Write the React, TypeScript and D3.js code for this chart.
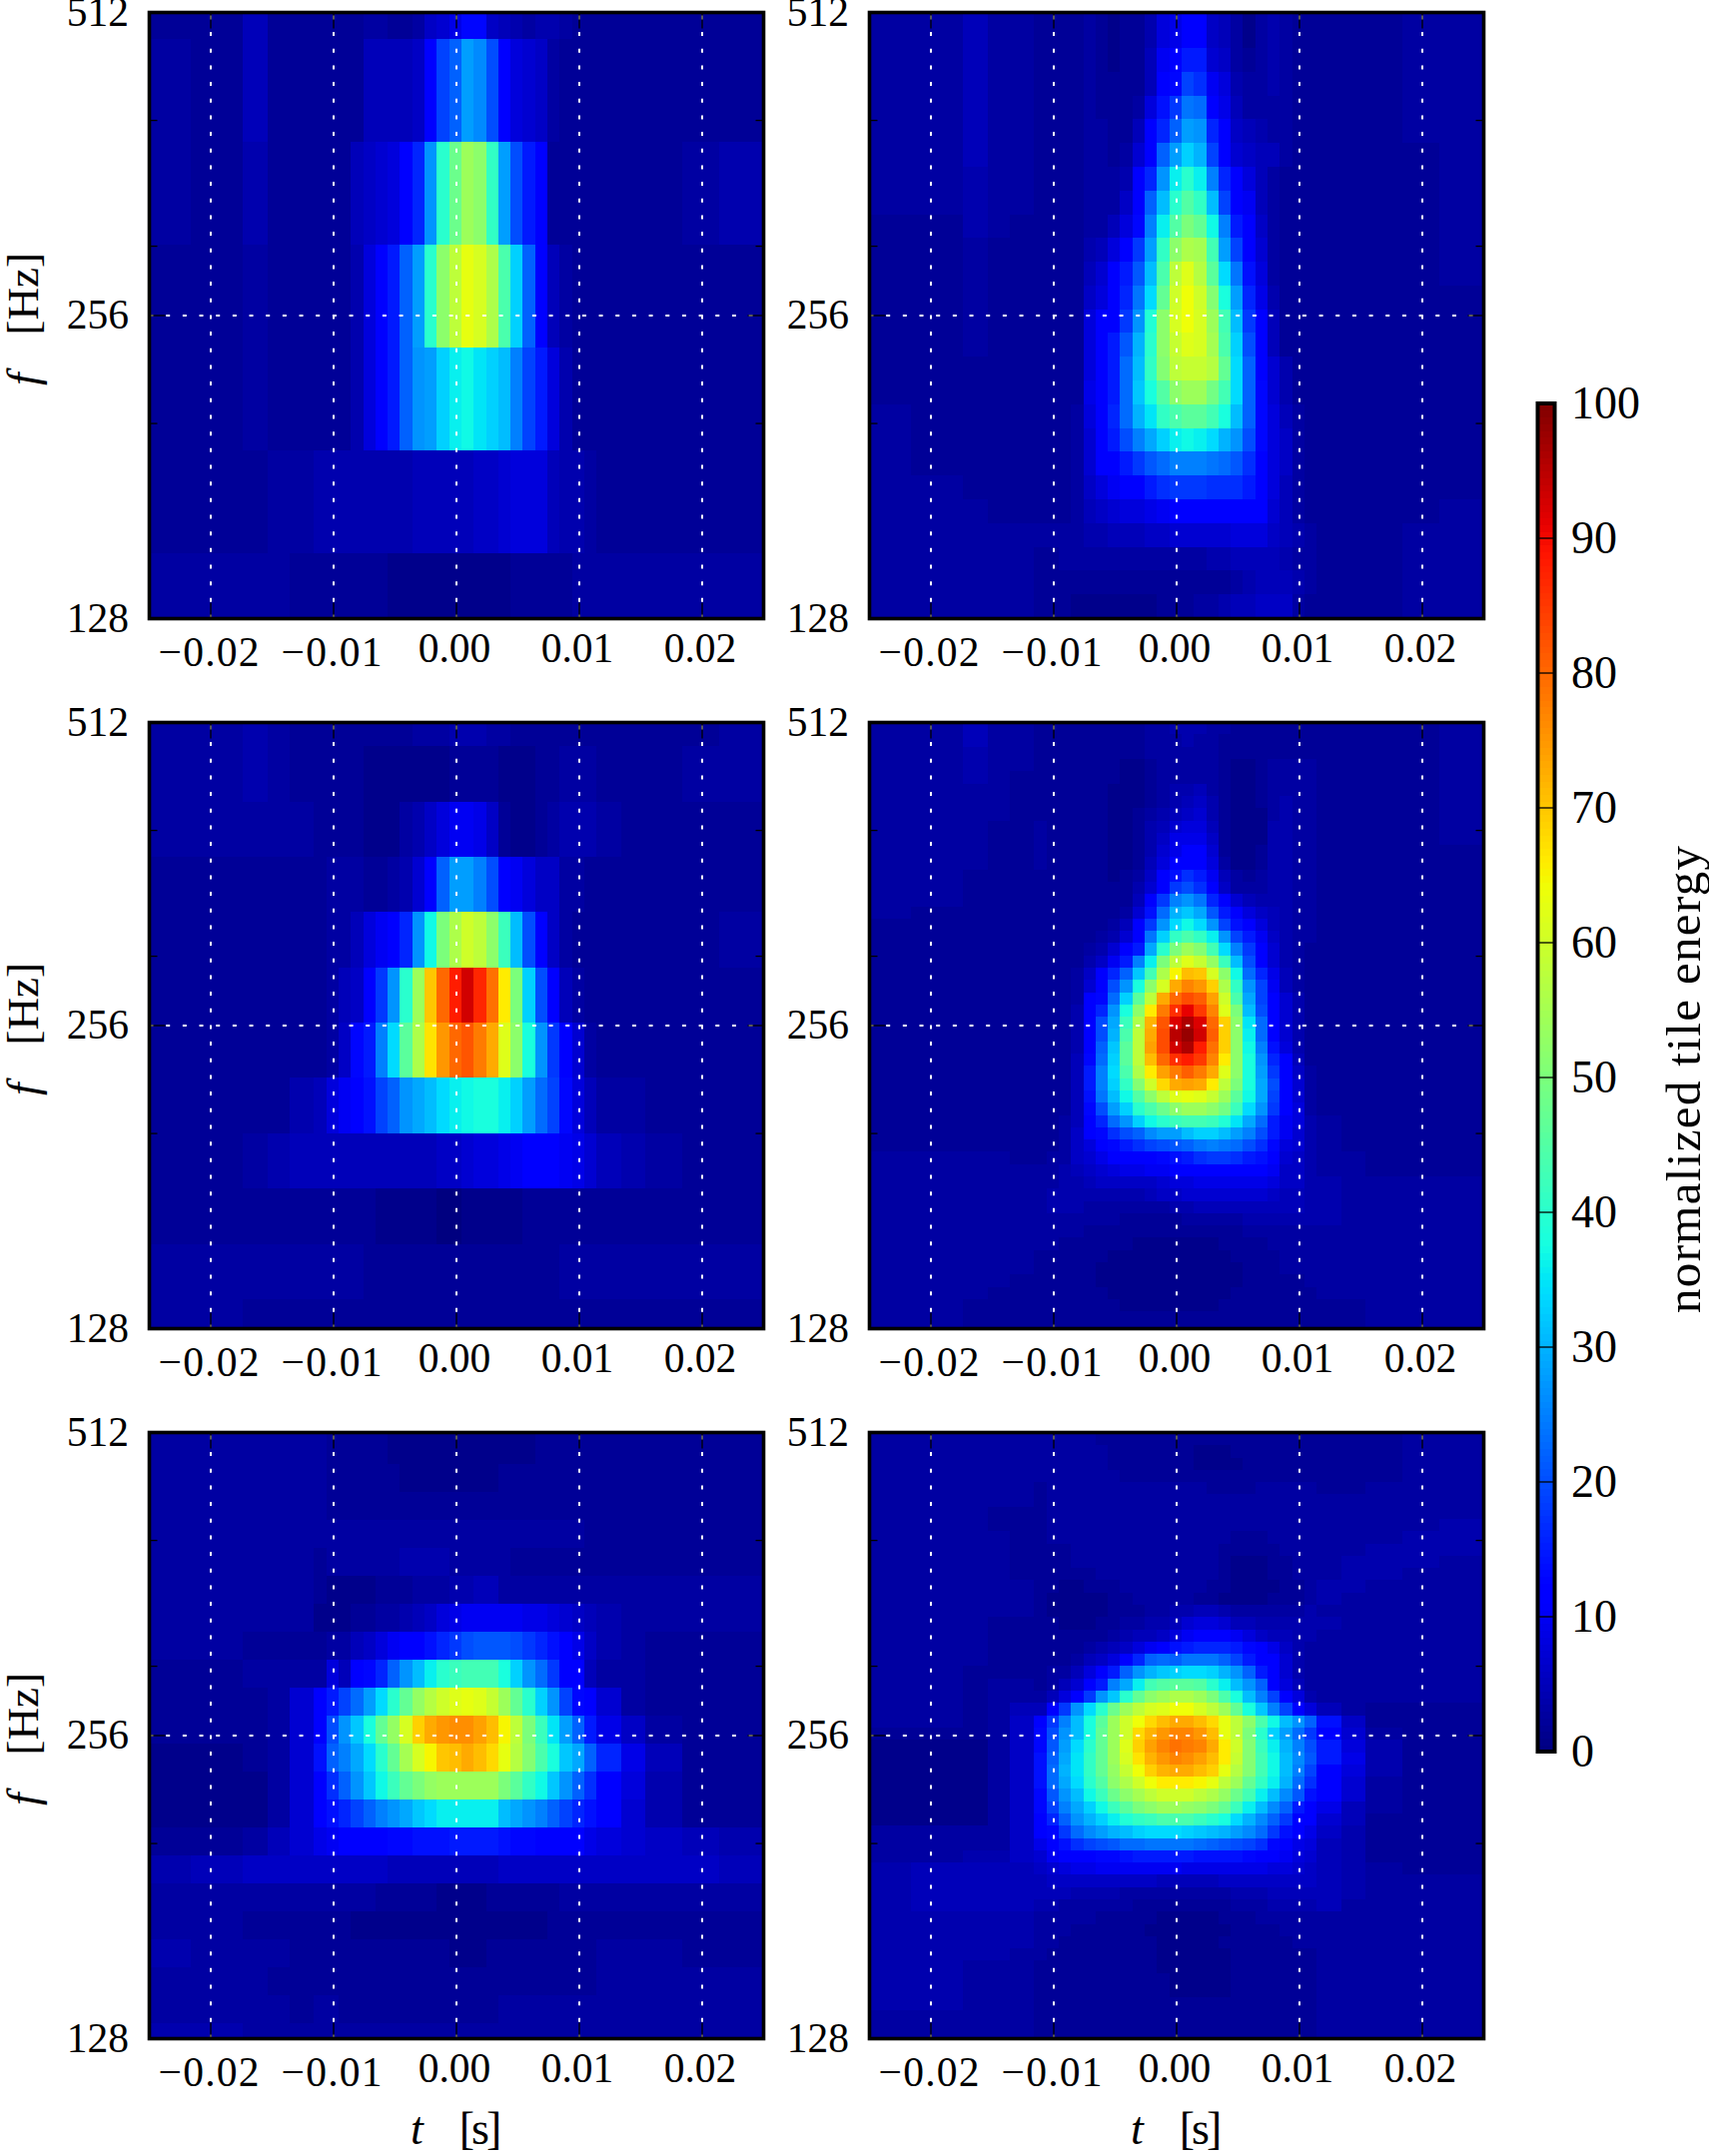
import React from 'react';
import * as d3 from 'd3';

// tile energy, rows top to bottom, 33 columns per row (see timeEdges)
const panelA: number[][] = [
  [2,2,5,2,2, 2,2,2,2,3,3,2,2,3,6,7,9,13,13,6,5,4,3,4,4,3,2,2, 2,2,2,2,2],
  [3,2,5,2,2, 2,2,2,2,5,5,5,5,6,12,19,22,28,26,20,11,8,7,6,3,2,2,2, 2,2,2,2,2],
  [3,2,4,2,2, 2,2,2,5,6,7,8,11,16,27,40,48,54,52,41,28,20,15,11,2,2,2,2, 2,2,2,3,4],
  [2,2,3,2,2, 2,2,2,4,8,11,15,22,28,40,52,58,63,61,56,44,33,22,11,5,3,2,2, 2,2,2,2,2],
  [2,2,3,2,2, 2,2,2,4,8,11,15,22,27,28,33,36,37,35,33,31,25,19,15,8,4,2,2, 2,2,2,2,2],
  [2,2,2,3,3, 4,4,4,4,4,4,4,4,5,5,5,5,5,6,6,7,8,8,8,5,4,4,3, 2,2,2,2,2],
  [3,3,3,3,2, 2,2,2,2,2,2,1,1,1,1,1,1,1,1,1,1,2,2,2,2,2,3,3, 3,3,3,3,3],
];

const panelB: number[][] = [
  [3,3,4,3,2, 2,2,2,2,2,2,2,2,3,3,3,4,4,4,3,3,2,2,2,2,2,2,2, 2,2,2,2,3],
  [3,3,4,3,2, 2,2,2,2,1,1,1,1,1,1,1,2,2,2,2,1,1,1,2,2,3,3,3, 2,2,2,3,3],
  [3,3,3,3,3, 2,2,2,2,1,1,1,3,4,6,8,10,10,9,6,2,1,1,2,3,4,4,4, 3,2,2,2,2],
  [2,2,2,2,2, 2,3,3,3,2,2,3,4,7,11,22,28,28,25,20,11,10,8,6,6,3,3,2, 2,2,2,2,2],
  [2,2,2,2,2, 2,3,3,5,8,10,11,16,27,37,50,56,60,58,52,42,31,20,11,6,3,2,2, 2,2,2,2,3],
  [2,2,2,2,2, 2,3,5,6,11,18,27,40,54,70,80,88,93,87,79,66,50,33,20,11,5,3,2, 2,2,2,2,2],
  [2,2,2,2,2, 2,3,6,13,15,25,34,46,56,67,75,80,82,78,73,62,52,38,27,18,11,7,3, 2,2,2,2,2],
  [2,2,2,2,4, 5,8,10,11,14,19,22,27,29,31,34,36,37,38,38,36,33,28,23,19,13,8,5, 3,3,2,2,2],
  [2,2,3,4,5, 5,5,5,5,5,5,5,5,5,5,6,6,7,8,8,9,10,11,11,11,10,9,7, 5,4,3,2,2],
  [2,2,2,2,2, 2,2,2,2,2,1,1,1,1,1,0,0,1,1,1,1,1,2,2,2,2,2,2, 2,2,2,2,2],
  [3,3,3,3,3, 3,3,3,3,2,2,2,2,2,2,2,2,2,2,2,2,2,2,2,2,3,3,3, 3,3,3,3,3],
  [3,3,2,2,2, 2,2,2,2,2,2,2,2,2,2,2,2,2,2,2,2,2,2,2,2,2,2,2, 2,2,2,2,2],
];

const panelC: number[][] = [
  [3,3,3,3,3, 3,2,2,2,2,2,1,1,1,1,1,1,1,1,1,1,1,1,2,2,2,2,2, 2,2,2,2,2],
  [3,3,3,3,3, 3,2,2,2,2,2,1,1,1,1,1,1,1,1,1,1,1,1,2,2,2,2,2, 2,2,2,2,2],
  [3,3,3,3,3, 3,2,2,2,2,2,2,1,1,1,1,1,1,1,1,2,2,2,2,2,2,2,2, 2,2,2,2,2],
  [3,3,3,3,3, 3,2,2,2,2,2,2,2,2,2,2,2,2,2,2,2,2,2,2,2,2,2,2, 2,2,2,2,2],
  [3,3,3,3,3, 3,3,3,3,3,3,3,3,3,3,3,3,3,3,3,3,3,3,3,3,3,3,2, 2,2,2,2,2],
  [3,3,3,3,3, 2,3,3,3,3,3,3,4,4,4,4,3,3,3,3,3,2,2,2,2,2,2,2, 2,2,2,2,2],
  [3,3,3,3,3, 2,1,1,1,1,2,2,2,3,3,3,4,4,5,5,3,3,3,3,3,3,3,3, 3,3,3,3,3],
  [3,3,3,3,3, 1,1,1,2,2,3,3,4,5,6,8,9,10,10,10,10,10,9,9,8,7,6,5, 4,3,3,3,3],
  [3,3,2,2,2, 2,3,3,5,6,8,10,11,11,14,16,18,20,21,21,21,20,18,16,14,11,9,6, 4,3,2,2,2],
  [2,2,3,3,3, 3,8,5,11,13,16,22,27,31,36,40,42,43,43,43,38,33,27,23,18,12,11,5, 3,3,2,2,2],
  [2,2,2,3,7, 11,15,19,23,28,34,40,47,53,57,60,62,63,62,59,54,47,40,33,27,19,13,11, 7,3,2,2,2],
  [2,2,2,3,7, 11,20,27,32,38,47,53,61,69,73,75,76,76,74,71,65,58,50,42,35,28,22,15, 9,6,3,2,2],
  [1,1,2,3,7, 14,22,25,29,34,40,47,55,61,65,70,71,73,71,68,63,57,51,44,38,32,29,22, 16,9,5,2,2],
  [1,1,1,3,7, 12,17,22,27,32,37,42,47,50,53,54,54,54,54,54,50,46,41,37,32,27,22,17, 12,8,4,2,2],
  [1,1,1,3,7, 11,14,16,19,22,25,27,29,32,34,36,36,36,36,36,31,29,27,25,22,19,16,14, 11,7,4,2,2],
  [2,2,3,5,7, 9,10,11,11,11,11,13,13,14,14,14,15,15,15,15,14,13,13,12,11,11,11,9, 8,7,6,5,4],
  [4,5,6,6,6, 6,6,6,6,6,6,5,5,5,5,5,5,5,5,5,6,6,6,6,6,6,6,6, 6,6,6,6,5],
  [3,3,3,3,3, 3,3,3,3,3,2,2,2,2,2,1,1,1,1,2,2,2,2,2,2,3,3,3, 3,3,3,3,3],
  [3,3,2,2,2, 2,2,2,1,1,1,1,1,1,1,1,1,1,1,1,1,1,1,1,2,2,2,2, 2,2,2,2,2],
  [4,3,3,3,2, 2,2,2,2,2,2,2,2,2,2,2,1,1,1,2,2,2,2,2,2,2,2,2, 3,3,3,2,2],
  [3,3,3,2,2, 2,2,2,2,2,2,2,2,2,2,2,2,2,2,2,2,2,2,2,2,2,2,2, 3,3,3,3,3],
  [3,3,3,3,2, 3,3,2,2,2,2,2,2,2,2,2,2,2,2,2,3,3,3,3,3,3,3,3, 3,3,3,3,3],
  [4,4,3,3,3, 3,3,3,3,3,3,3,3,3,3,3,3,3,3,3,3,3,3,3,3,3,3,3, 3,3,3,3,3],
];

const panelD: number[][] = [
  [3,3,5,3,3, 2,2,2,2,3,2,1,2,2,4,8,9,12,12,6,5,3,1,3,4,3,2,2, 2,2,2,3,3],
  [3,3,5,3,3, 2,2,2,2,3,2,1,2,2,4,8,9,12,12,6,5,3,1,3,4,3,2,2, 2,2,2,3,3],
  [3,3,5,3,3, 2,2,2,2,3,2,1,2,2,5,10,11,15,15,7,6,3,2,3,4,3,2,2, 2,2,2,3,3],
  [3,3,5,3,3, 2,2,2,2,3,2,2,2,2,5,11,13,19,17,10,8,4,3,3,4,3,2,2, 2,2,2,3,3],
  [3,3,5,3,3, 2,2,2,2,3,2,2,2,3,8,14,18,24,23,11,9,5,3,3,3,3,2,2, 2,2,2,3,3],
  [3,3,5,3,3, 2,2,2,2,3,3,2,2,5,11,16,22,28,27,16,11,6,5,4,3,3,2,2, 2,2,2,3,3],
  [3,3,5,3,3, 2,2,2,2,3,3,2,3,7,11,22,28,33,30,19,11,7,6,5,5,3,2,2, 2,2,2,2,3],
  [3,3,4,3,3, 2,2,2,2,3,3,3,4,11,16,27,36,40,36,25,16,11,8,5,3,2,2,2, 2,2,2,2,3],
  [3,3,4,3,3, 2,2,2,2,3,3,3,6,11,22,31,40,45,41,31,19,11,10,5,3,2,2,2, 2,2,2,2,3],
  [2,2,4,3,2, 2,2,2,2,3,3,5,8,13,25,36,45,50,47,37,25,15,11,6,3,2,2,2, 2,2,2,2,3],
  [2,2,3,2,2, 2,2,2,2,4,5,8,11,18,28,41,52,56,55,43,28,19,11,7,3,2,2,2, 2,2,2,2,3],
  [2,2,3,2,2, 2,2,2,2,5,7,11,15,21,31,44,58,62,57,46,34,24,14,8,3,2,2,2, 2,2,2,2,3],
  [2,2,3,2,2, 2,2,2,2,6,8,11,16,24,34,47,60,64,60,51,38,28,16,9,4,2,2,2, 2,2,2,2,2],
  [2,2,3,2,2, 2,2,2,2,8,11,11,18,27,39,52,61,64,61,54,43,31,18,11,5,2,2,2, 2,2,2,2,2],
  [2,2,3,2,2, 2,2,2,2,8,11,15,21,30,40,52,59,62,61,55,44,33,20,11,5,2,2,2, 2,2,2,2,2],
  [2,2,2,2,2, 2,2,2,2,8,11,15,23,31,41,51,58,59,59,57,47,34,22,11,7,4,2,2, 2,2,2,2,2],
  [2,2,2,2,2, 2,2,2,2,9,11,15,23,32,38,45,52,54,54,49,43,34,22,13,7,4,2,2, 2,2,2,2,2],
  [3,2,2,2,2, 2,2,2,3,8,11,16,23,30,35,41,44,46,46,43,38,31,22,13,8,5,3,2, 2,2,2,2,2],
  [3,2,2,2,2, 2,2,2,3,7,11,15,20,25,29,33,36,37,36,34,30,27,20,13,8,6,3,2, 2,2,2,2,2],
  [3,2,2,2,2, 2,2,2,3,7,11,11,15,18,21,23,25,25,25,24,23,21,17,12,8,6,3,2, 2,2,2,2,2],
  [3,3,2,2,2, 2,2,2,3,6,8,10,11,12,15,17,18,18,18,17,17,17,15,11,8,5,3,2, 2,2,2,2,2],
  [3,3,3,2,2, 2,2,2,3,5,6,7,8,8,9,10,11,11,11,11,11,11,11,11,7,5,3,2, 2,2,2,2,3],
  [3,3,3,3,3, 3,3,3,3,4,4,5,5,5,6,6,7,7,7,7,7,8,8,8,6,5,4,3, 2,2,2,3,3],
  [3,3,3,3,3, 2,2,3,3,3,3,3,3,3,3,3,3,3,3,4,4,5,5,5,5,4,3,3, 2,2,2,3,3],
  [3,3,3,3,3, 2,2,2,2,2,2,2,2,2,2,2,2,2,2,2,2,3,4,5,5,5,4,3, 2,2,2,3,3],
  [3,3,3,3,3, 2,2,2,1,1,1,1,1,1,1,2,2,2,3,3,4,5,5,6,6,6,3,2, 2,2,2,3,3],
];

const panelE: number[][] = [
  [3,3,5,3,3, 2,2,2,2,2,2,2,2,2,3,3,4,4,4,3,3,2,2,2,2,2,2,2, 2,2,2,2,3],
  [3,3,5,3,3, 2,2,2,2,2,2,2,2,2,3,3,3,4,3,3,2,2,2,2,2,2,2,2, 2,2,2,2,3],
  [3,3,4,3,3, 2,2,2,2,2,2,2,2,2,3,3,3,3,3,3,2,2,2,2,2,2,2,2, 2,2,2,2,3],
  [3,3,4,3,3, 2,2,2,2,2,2,2,1,1,2,3,3,3,3,3,2,1,1,2,3,3,3,3, 2,2,2,2,3],
  [3,3,4,3,2, 2,2,2,2,2,2,2,1,1,2,3,3,3,3,3,2,1,1,2,3,3,3,3, 2,2,2,2,3],
  [3,3,3,3,2, 2,2,2,2,2,2,1,1,1,2,3,4,4,5,3,2,1,1,2,3,3,3,3, 2,2,2,2,3],
  [3,3,3,3,2, 2,2,2,2,2,2,1,1,1,2,3,4,5,6,4,2,1,1,2,3,4,3,3, 2,2,2,2,3],
  [3,3,3,3,2, 2,2,2,2,2,2,1,1,2,3,4,5,6,7,4,2,1,1,1,3,4,3,3, 2,2,2,2,3],
  [3,3,3,2,2, 3,2,2,2,2,2,1,1,2,4,5,7,8,8,5,2,1,1,1,4,4,3,3, 2,2,2,2,3],
  [3,3,3,2,2, 3,2,2,2,2,2,1,1,2,4,6,9,9,9,6,2,1,1,1,4,4,3,3, 2,2,2,2,3],
  [3,3,3,2,2, 3,2,2,2,2,2,1,1,2,4,7,9,11,11,7,2,1,1,2,4,4,3,3, 2,2,2,2,2],
  [3,3,3,2,2, 3,2,2,2,2,2,1,1,2,5,8,11,12,12,8,3,1,1,2,4,4,3,3, 2,2,2,2,2],
  [3,3,2,2,2, 2,2,2,2,2,2,1,2,3,6,11,14,17,15,10,5,3,2,3,4,4,3,3, 2,2,2,2,2],
  [3,3,2,2,2, 2,2,2,2,2,2,2,2,4,7,11,18,20,17,11,6,3,3,3,4,4,3,3, 2,2,2,2,2],
  [3,3,2,2,2, 2,2,2,2,2,2,2,2,5,11,18,25,27,24,16,11,7,5,4,4,4,3,3, 2,2,2,2,2],
  [3,2,2,2,2, 2,2,2,2,2,2,2,3,7,14,23,30,32,29,21,15,11,8,6,5,4,3,3, 2,2,2,2,2],
  [2,2,2,2,2, 2,2,2,2,2,2,3,5,11,18,27,34,37,34,27,19,14,11,8,5,4,3,3, 2,2,2,2,2],
  [2,2,2,2,2, 2,2,2,2,2,3,4,7,11,24,33,41,44,41,36,27,19,15,10,6,4,3,3, 2,2,2,2,2],
  [2,2,2,2,2, 2,2,2,2,3,4,7,11,15,29,40,50,54,51,43,34,25,18,11,7,4,3,2, 2,2,2,2,2],
  [2,2,2,2,2, 2,2,2,2,4,6,10,15,25,36,50,58,62,59,53,42,31,20,12,7,4,3,2, 2,2,2,2,2],
  [2,2,2,2,2, 2,2,2,3,6,11,16,22,32,43,56,65,71,70,61,52,37,23,16,9,5,3,2, 2,2,2,2,2],
  [2,2,2,2,2, 2,2,2,3,7,11,20,27,38,52,61,73,77,75,69,56,41,27,19,10,5,3,2, 2,2,2,2,2],
  [2,2,2,2,2, 2,2,2,3,11,13,23,33,46,58,73,80,83,81,74,60,44,29,19,11,7,4,2, 2,2,2,2,2],
  [2,2,2,2,2, 2,2,2,4,11,16,27,38,52,66,78,86,91,85,77,62,50,31,20,11,7,4,2, 2,2,2,2,2],
  [2,2,2,2,2, 2,2,2,4,11,20,29,42,56,72,82,92,96,92,80,69,52,35,23,11,7,4,2, 2,2,2,2,2],
  [2,2,2,2,2, 2,2,2,4,11,20,30,44,58,73,83,95,98,93,81,69,52,36,23,11,7,4,2, 2,2,2,2,2],
  [2,2,2,2,2, 2,2,2,4,11,22,32,46,58,74,83,93,96,88,79,69,52,37,25,14,8,4,2, 2,2,2,2,2],
  [2,2,2,2,2, 2,2,2,5,13,23,33,46,58,71,80,86,88,85,77,66,52,38,27,16,11,5,2, 2,2,2,2,2],
  [2,2,2,2,2, 2,2,2,5,15,25,34,44,56,66,74,78,81,78,73,62,52,38,28,18,11,6,3, 2,2,2,2,2],
  [2,2,2,2,2, 2,2,2,5,15,25,33,41,51,60,68,73,74,73,66,58,50,38,29,20,11,7,3, 2,2,2,2,2],
  [2,2,2,2,2, 2,2,2,5,14,24,31,37,45,52,58,62,63,62,59,54,46,37,29,19,11,7,3, 2,2,2,2,2],
  [2,2,2,2,2, 2,2,2,5,13,20,28,33,40,44,48,52,54,54,52,49,42,34,27,18,11,8,3, 2,2,2,2,2],
  [2,2,2,2,2, 2,2,3,5,11,16,23,27,33,37,40,42,43,43,42,39,35,29,23,15,10,8,4, 3,2,2,2,2],
  [2,2,2,2,2, 2,2,3,6,11,13,17,20,22,26,28,28,31,33,33,31,28,25,20,15,10,7,4, 3,2,2,2,2],
  [2,2,2,2,2, 2,2,3,6,8,11,13,15,17,19,20,21,22,24,25,24,23,20,17,13,8,7,4, 3,2,2,2,2],
  [3,3,3,3,2, 2,3,3,6,7,9,11,11,11,12,13,14,15,17,18,18,17,15,14,11,7,6,4, 3,3,2,2,2],
  [3,3,3,3,3, 3,3,4,5,6,7,8,9,9,10,10,11,11,11,12,12,11,11,11,10,6,6,4, 3,3,2,2,2],
  [3,3,3,3,3, 3,3,4,4,5,6,6,6,6,6,7,8,8,9,9,9,9,9,9,8,6,6,4, 4,3,3,3,3],
  [3,3,3,3,3, 3,4,4,4,4,4,4,4,4,5,6,6,7,7,7,7,7,7,7,6,5,5,4, 4,3,3,3,3],
  [3,3,3,3,3, 3,4,4,4,3,3,3,3,3,3,3,4,4,5,5,5,5,5,5,5,5,5,4, 4,3,3,3,3],
  [3,3,3,3,3, 3,3,3,3,3,3,3,2,2,2,2,2,3,3,3,3,3,4,4,4,4,4,4, 4,3,3,3,3],
  [3,3,3,3,3, 3,3,3,3,2,2,2,2,2,2,2,2,2,2,2,2,2,3,3,3,3,3,3, 3,3,3,3,3],
  [3,3,3,3,3, 3,3,2,2,2,2,2,2,1,1,1,1,1,1,1,2,2,2,2,3,3,3,3, 3,3,3,3,3],
  [3,3,3,3,3, 2,2,2,2,2,2,1,1,1,1,1,1,1,1,1,1,2,2,2,2,3,3,3, 3,3,3,3,3],
  [3,3,3,3,3, 2,2,2,2,2,1,1,1,1,1,1,1,1,1,1,1,1,2,2,2,3,3,3, 3,3,3,3,3],
  [3,3,3,3,2, 2,2,2,2,2,1,1,1,1,1,1,1,1,1,1,1,1,2,2,2,2,2,3, 3,3,3,3,3],
  [3,3,3,2,2, 2,2,2,2,2,2,1,1,1,1,1,1,1,1,1,1,2,2,2,2,2,2,2, 3,3,3,3,3],
  [3,3,2,2,2, 2,2,2,2,2,2,2,1,1,1,1,1,1,1,1,2,2,2,2,2,2,2,2, 2,2,3,3,3],
  [3,3,2,2,2, 2,2,2,2,2,2,2,2,2,2,2,2,2,2,2,2,2,2,2,2,2,2,2, 2,2,3,3,3],
  [3,3,2,2,2, 2,2,2,2,2,2,2,2,2,2,2,2,2,2,2,2,2,2,2,2,2,2,2, 2,2,3,3,3],
];

const panelF: number[][] = [
  [3,3,3,3,3, 3,3,3,3,3,2,2,2,2,2,2,2,2,2,2,2,2,2,2,2,2,2,2, 2,2,2,3,3],
  [3,3,3,3,3, 3,3,3,3,3,3,2,2,2,2,2,2,2,1,1,1,2,2,2,2,2,2,2, 2,2,2,3,3],
  [3,3,3,3,3, 3,3,3,3,3,3,2,2,2,2,2,2,2,1,1,1,1,2,2,2,2,2,2, 2,2,2,3,3],
  [3,3,3,3,3, 3,3,3,3,3,3,3,2,2,2,2,2,2,2,2,2,2,2,2,2,2,2,2, 2,2,2,3,3],
  [3,3,3,3,3, 2,3,3,3,3,3,3,3,3,3,3,3,3,3,2,2,2,2,3,3,3,3,3, 2,2,3,3,3],
  [3,3,3,3,3, 2,3,3,3,3,3,3,3,3,3,3,3,3,3,3,3,3,3,3,3,3,3,3, 3,3,3,3,3],
  [3,3,3,2,2, 2,3,3,3,3,3,3,3,3,3,3,3,3,3,3,3,3,3,3,3,3,3,3, 3,3,3,3,3],
  [3,3,3,2,2, 2,3,3,3,3,3,3,3,3,3,3,3,3,3,3,3,3,3,3,3,3,3,3, 3,3,3,3,4],
  [3,3,3,3,2, 2,3,3,3,3,3,3,3,3,3,3,3,3,3,3,3,2,2,2,3,3,3,3, 3,3,3,4,4],
  [3,3,3,3,2, 2,2,2,3,3,3,3,3,3,3,3,3,3,3,3,2,2,2,2,2,3,3,3, 3,3,4,4,4],
  [3,3,3,3,2, 2,2,2,3,3,3,3,3,3,3,3,3,3,3,3,2,1,1,1,2,2,3,3, 3,4,4,4,3],
  [3,3,3,3,2, 2,2,2,2,2,3,3,3,3,3,3,3,3,3,3,2,1,1,1,2,2,3,3, 3,4,4,3,3],
  [3,3,3,3,3, 2,2,1,1,2,2,2,3,3,3,3,3,3,3,2,2,1,1,1,1,2,2,3, 4,4,3,3,3],
  [3,3,3,3,3, 2,1,1,1,1,1,2,2,3,3,3,3,3,2,2,1,1,1,1,2,2,2,3, 4,3,3,3,3],
  [3,3,3,3,3, 2,1,1,1,1,1,2,2,2,3,3,4,4,5,5,4,3,3,3,3,3,3,4, 3,3,3,3,3],
  [3,3,3,2,2, 2,2,1,1,1,2,2,3,3,4,4,5,7,8,8,7,5,5,4,4,4,4,4, 4,3,3,3,3],
  [3,3,3,2,2, 2,2,2,2,2,2,3,4,5,5,6,8,10,11,11,11,10,8,6,5,5,4,4, 3,3,3,3,3],
  [3,3,3,2,2, 2,2,2,2,3,4,5,6,8,10,11,14,15,16,16,16,15,13,11,9,6,4,3, 3,3,3,3,3],
  [3,3,3,2,2, 2,2,2,3,5,6,8,11,16,22,23,22,24,24,24,22,19,15,12,11,7,4,3, 3,3,3,3,3],
  [3,3,2,2,2, 2,3,3,5,8,11,15,22,27,30,32,33,34,34,33,30,27,22,15,11,7,4,3, 3,3,3,3,3],
  [3,3,2,3,3, 2,3,5,7,11,15,25,29,36,43,45,46,46,45,40,36,31,27,22,12,8,5,3, 3,3,3,3,3],
  [3,3,2,3,3, 3,5,8,11,18,27,32,40,47,52,54,56,56,54,50,44,38,31,25,19,11,8,4, 3,3,3,3,3],
  [3,3,2,3,5, 5,11,18,27,34,40,48,54,58,61,62,64,64,61,58,54,47,38,32,25,19,11,8, 5,3,2,2,2],
  [3,3,2,3,6, 11,18,25,31,38,46,54,60,64,68,71,73,73,71,68,63,58,52,44,37,31,27,22, 14,6,2,2,2],
  [2,2,2,3,6, 13,20,27,31,38,47,54,60,68,72,75,77,77,75,71,63,58,50,40,33,28,23,18, 11,7,3,2,2],
  [1,1,1,3,6, 13,21,28,34,40,47,54,62,69,74,77,79,78,77,73,66,60,51,42,36,30,25,20, 15,8,4,2,2],
  [1,1,1,3,6, 14,22,29,35,41,47,54,61,67,72,75,77,76,74,71,66,59,51,43,37,31,26,21, 15,9,4,2,2],
  [1,1,1,3,6, 14,23,30,35,41,47,53,59,64,69,72,73,73,71,69,63,57,51,43,37,31,25,19, 12,8,4,2,2],
  [1,1,1,3,6, 14,23,29,34,40,45,52,56,60,64,66,66,66,65,63,58,54,47,41,36,30,23,17, 11,7,3,2,2],
  [1,1,1,3,6, 13,21,27,31,37,42,48,52,55,58,60,60,60,58,56,53,48,43,36,31,26,21,14, 11,7,3,2,2],
  [1,1,1,3,6, 13,19,25,29,33,37,42,46,50,52,54,54,53,52,50,47,42,36,31,26,22,15,11, 9,5,3,2,2],
  [1,1,1,3,6, 11,16,22,27,30,33,36,39,41,42,44,44,44,42,40,38,34,30,26,22,18,12,11, 7,5,2,2,2],
  [3,3,3,3,6, 11,13,18,23,26,28,30,31,33,34,34,34,33,32,31,30,28,26,23,18,14,11,9, 6,4,2,2,2],
  [3,3,3,3,6, 9,11,14,17,19,20,21,23,23,24,24,24,24,23,22,21,20,19,17,13,11,9,8, 5,4,2,2,2],
  [3,3,4,4,6, 7,10,11,11,11,13,13,14,15,15,15,15,15,14,14,14,14,13,12,11,10,8,7, 5,4,2,2,2],
  [4,5,5,5,5, 6,7,8,9,9,10,10,10,10,10,10,10,9,9,9,9,9,9,9,8,8,7,6, 5,4,3,2,2],
  [4,5,5,5,5, 5,6,6,6,6,6,6,6,6,6,5,5,5,5,5,6,6,6,6,6,6,6,6, 5,4,3,3,3],
  [4,5,5,5,5, 5,5,5,4,4,4,4,3,3,3,3,3,3,3,3,3,4,4,4,5,5,5,5, 5,4,3,3,3],
  [4,5,5,5,5, 4,4,3,3,3,3,3,3,2,2,2,2,2,2,2,2,3,3,3,4,4,4,4, 5,3,3,3,3],
  [4,4,4,4,4, 3,3,3,3,3,2,2,2,2,2,1,1,1,1,1,2,2,2,3,3,3,3,3, 3,3,3,3,3],
  [4,4,4,4,4, 3,3,3,2,2,2,2,2,2,1,1,1,1,1,1,1,2,2,2,2,3,3,3, 3,3,3,3,3],
  [4,4,4,4,4, 3,3,2,2,2,2,2,2,2,2,1,1,1,1,1,2,2,2,2,2,2,3,3, 3,3,3,3,3],
  [4,4,4,4,3, 3,2,2,2,2,2,2,2,2,2,1,1,1,1,1,1,2,2,2,2,2,2,2, 3,3,3,3,3],
  [4,4,3,3,3, 2,2,2,2,2,2,2,2,2,2,1,1,1,1,1,1,2,2,2,2,2,2,2, 3,3,3,3,3],
  [4,4,3,3,3, 2,2,2,2,2,2,2,2,2,2,2,1,1,1,1,1,2,2,2,2,2,2,2, 3,3,3,3,3],
  [4,4,3,3,3, 2,2,2,2,2,2,2,2,2,2,2,1,1,1,1,1,2,2,2,2,2,2,2, 3,3,3,3,3],
  [4,4,3,3,3, 2,2,2,2,2,2,2,2,2,2,2,2,2,2,2,2,2,2,2,2,2,2,2, 3,3,3,3,3],
  [3,3,3,3,3, 2,2,2,2,2,2,2,2,2,2,2,2,2,2,2,2,2,2,2,2,2,2,2, 3,3,3,3,3],
  [3,3,3,3,3, 2,2,2,2,2,2,2,2,2,2,2,2,2,2,2,2,2,2,2,2,2,2,2, 3,3,3,3,3],
  [3,3,3,3,3, 2,2,2,2,2,2,2,2,2,2,2,2,2,2,2,2,2,2,2,2,2,2,2, 3,3,3,3,3],
];

// column edges in ms: wide bins on the quiet flanks, 1 ms bins around the burst
const timeEdges = [-25.5, -21.6, -17.4, -15.4, -13.6, ...d3.range(-11.6, 12, 1), 13.4, 15.4, 18.4, 21.4, 25.5];

const timeTicks = [-0.02, -0.01, 0, 0.01, 0.02];
const freqTicks = [128, 200, 256, 300, 400, 512];
const freqLabels = [128, 256, 512];
const colorTicks = d3.range(0, 101, 10);

// figure order: left/right, row by row
const panels = [panelA, panelD, panelB, panelE, panelC, panelF];
// bottom edge of the lowest row and row height, in octaves above 128 Hz
const rowStarts = [-0.1236, 0.0016, -0.0853, -0.024, -0.0412, -0.0264];
const rowSteps = [0.3394, 0.0784, 0.1825, 0.0405, 0.0922, 0.0405];

const jetR = d3.scaleLinear().domain([0, 0.35, 0.66, 0.89, 1]).range([0, 0, 1, 1, 0.5]).clamp(true);
const jetG = d3.scaleLinear().domain([0, 0.125, 0.375, 0.64, 0.91, 1]).range([0, 0, 1, 1, 0, 0]).clamp(true);
const jetB = d3.scaleLinear().domain([0, 0.11, 0.34, 0.65, 1]).range([0.5, 1, 1, 0, 0]).clamp(true);
const jet = (v: number) => {
  const t = v / 100;
  return d3.rgb(jetR(t) * 255, jetG(t) * 255, jetB(t) * 255).formatHex();
};

const FONT = '"Liberation Serif", serif';
const colX = [149.5, 870.5];
const rowY = [12.5, 723.5, 1434.5];
const W = 615;
const H = 607;

const Panel: React.FC<{ idx: number; left: number; top: number; showX: boolean; showY: boolean }> = ({ idx, left, top, showX, showY }) => {
  const x = d3.scaleLinear().domain([-0.025, 0.025]).range([left, left + W]);
  const y = d3.scaleLog().base(2).domain([128, 512]).range([top + H, top]);
  const rows = panels[idx];
  const clipId = `clip-${idx}`;
  const bottomOctave = (r: number) => rowStarts[idx] + (rows.length - 1 - r) * rowSteps[idx];
  const freq = (oct: number) => 128 * Math.pow(2, oct);

  return (
    <g>
      <clipPath id={clipId}><rect x={left} y={top} width={W} height={H} /></clipPath>
      <g clipPath={`url(#${clipId})`} shapeRendering="crispEdges">
        <rect x={left} y={top} width={W} height={H} fill={jet(2)} />
        {rows.map((row, r) =>
          row.map((v, c) => {
            const x0 = x(timeEdges[c] / 1000);
            const x1 = x(timeEdges[c + 1] / 1000);
            const y0 = y(freq(bottomOctave(r) + rowSteps[idx]));
            const y1 = y(freq(bottomOctave(r)));
            return <rect key={`${r}-${c}`} x={x0} y={y0} width={x1 - x0 + 0.5} height={y1 - y0 + 0.5} fill={jet(v)} />;
          })
        )}
      </g>
      {/* dotted grid */}
      {timeTicks.map(t => (
        <line key={`gx${t}`} x1={x(t)} x2={x(t)} y1={top + H} y2={top} stroke="#fff" strokeWidth={2} strokeDasharray="4 12.67" />
      ))}
      <line x1={left} x2={left + W} y1={y(256)} y2={y(256)} stroke="#fff" strokeWidth={2} strokeDasharray="4 12.67" />
      {/* ticks on all four sides */}
      {timeTicks.map(t => (
        <g key={`tx${t}`} stroke="#000" strokeWidth={1.3}>
          <line x1={x(t)} x2={x(t)} y1={top + H} y2={top + H - 16} />
          <line x1={x(t)} x2={x(t)} y1={top} y2={top + 16} />
        </g>
      ))}
      {freqTicks.map(f => {
        const len = freqLabels.includes(f) ? 16 : 8;
        return (
          <g key={`ty${f}`} stroke="#000" strokeWidth={1.3}>
            <line x1={left} x2={left + len} y1={y(f)} y2={y(f)} />
            <line x1={left + W} x2={left + W - len} y1={y(f)} y2={y(f)} />
          </g>
        );
      })}
      <rect x={left} y={top} width={W} height={H} fill="none" stroke="#000" strokeWidth={3.6} />
      {timeTicks.map(t => (
        <text
          key={`lx${t}`}
          x={x(t) - 2}
          y={top + H + (t < 0 ? 47.5 : 43.5)}
          textAnchor="middle"
          fontFamily={FONT}
          fontSize={41.5}
          textLength={t < 0 ? 101 : undefined}
        >
          {t < 0 ? `\u2212${Math.abs(t).toFixed(2)}` : t.toFixed(2)}
        </text>
      ))}
      {freqLabels.map(f => (
        <text key={`ly${f}`} x={left - 20.5} y={y(f) + 13} textAnchor="end" fontFamily={FONT} fontSize={41.5}>{f}</text>
      ))}
      {showY && (
        <text transform={`translate(${left - 112},${y(256) + 70}) rotate(-90)`} fontFamily={FONT} fontSize={45}>
          <tspan fontStyle="italic">f</tspan>
          <tspan dx={38}>[Hz]</tspan>
        </text>
      )}
      {showX && (
        <text x={x(0) - 46} y={top + H + 105.5} fontFamily={FONT} fontSize={46}>
          <tspan fontStyle="italic">t</tspan>
          <tspan dx={36} letterSpacing={-3}>[s]</tspan>
        </text>
      )}
    </g>
  );
};

const ColorBar: React.FC = () => {
  const left = 1539.5;
  const barW = 17;
  const y = d3.scaleLinear().domain([0, 100]).range([1754, 404]);
  const levels = d3.range(0, 100, 0.5);
  return (
    <g>
      <g shapeRendering="crispEdges">
        {levels.map(v => (
          <rect key={v} x={left} width={barW} y={y(v + 0.5)} height={y(v) - y(v + 0.5) + 0.5} fill={jet(v + 0.25)} />
        ))}
      </g>
      {colorTicks.map(v => (
        <g key={v}>
          <line x1={left} x2={left + barW} y1={y(v)} y2={y(v)} stroke="#000" strokeWidth={1.3} />
          <text x={1573} y={y(v) + 15} fontFamily={FONT} fontSize={46}>{v}</text>
        </g>
      ))}
      <rect x={left} y={y(100)} width={barW} height={y(0) - y(100)} fill="none" stroke="#000" strokeWidth={4} />
      <text transform="translate(1702,1081) rotate(-90)" textAnchor="middle" fontFamily={FONT} fontSize={49} textLength={468}>
        normalized tile energy
      </text>
    </g>
  );
};

const App: React.FC = () => (
  <svg width={1711} height={2159} style={{ position: 'absolute', left: 0, top: 0, display: 'block' }}>
    <rect width={1711} height={2159} fill="#fff" />
    {rowY.map((top, r) =>
      colX.map((left, c) => (
        <Panel key={`${r}-${c}`} idx={r * 2 + c} left={left} top={top} showX={r === 2} showY={c === 0} />
      ))
    )}
    <ColorBar />
  </svg>
);

export default App;
